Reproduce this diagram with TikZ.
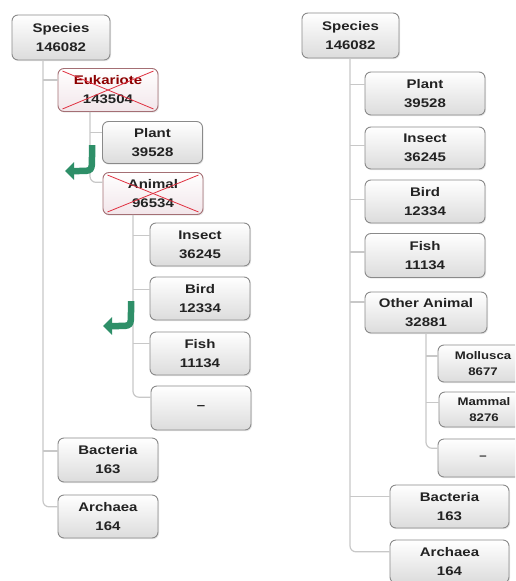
\documentclass[tikz,border=0pt]{standalone}
\usepackage{fontspec}
\setmainfont{Liberation Sans}
\newfontfamily\boxfont[FakeStretch=1.2,Ligatures=TeX]{Liberation Sans}
\usetikzlibrary{arrows.meta,calc,shadows}
\definecolor{boxborder}{HTML}{8A8A8A}
\definecolor{boxbottom}{HTML}{DCDCDC}
\definecolor{textgray}{HTML}{222222}
\definecolor{linegray}{HTML}{C8C8C8}
\definecolor{crossred}{HTML}{E03040}
\definecolor{arrowgreen}{HTML}{2E8F68}
\definecolor{crossfill}{HTML}{F2E6EA}
\begin{document}
\begin{tikzpicture}[x=1pt,y=-1pt,
  box/.style={draw=boxborder, line width=0.9pt, rounded corners=6pt, top color=white, bottom color=boxbottom,
    minimum width=100pt, minimum height=43pt, inner sep=1pt, align=center,
    font=\boxfont\fontsize{12.5}{19}\selectfont\bfseries, text=textgray,
    drop shadow={opacity=0.18, shadow xshift=1pt, shadow yshift=-1.2pt}},
  rbox/.style={box, minimum width=120pt},
  sbox/.style={box, minimum width=90pt, minimum height=37pt, font=\boxfont\fontsize{11}{16}\selectfont\bfseries},
  crossed/.style={box, top color=white, bottom color=crossfill, draw=boxborder!70!crossred},
  xline/.style={draw=crossred, line width=0.8pt},
  conn/.style={draw=linegray, line width=1.2pt, rounded corners=6pt},
  garrow/.style={draw=arrowgreen, line width=6.5pt, -{Triangle[length=9pt,width=17pt]}}
]
\clip (0,0) rectangle (515,581);
\fill[white] (0,0) rectangle (515,581);

% ---------- left tree ----------
\node[box, minimum width=98pt, minimum height=45pt] (LSp) at (61,37.5) {Species\\146082};
\node[crossed] (LEu) at (108,90) {\textcolor{red!55!black}{Eukariote}\\143504};
\node[box, minimum height=42pt] (LPl) at (152.5,142.5) {Plant\\39528};
\node[crossed, minimum height=42pt] (LAn) at (153,193.5) {Animal\\96534};
\node[box] (LIn) at (200,244.5) {Insect\\36245};
\node[box] (LBi) at (200,298.5) {Bird\\12334};
\node[box] (LFi) at (200,353.5) {Fish\\11134};
\node[box, minimum height=44pt] (LDa) at (201,408) {–};
\node[box, minimum height=44pt] (LBa) at (108,460) {Bacteria\\163};
\node[box] (LAr) at (108,516.5) {Archaea\\164};

\draw[xline] ([shift={(5,3)}]LEu.north west) -- ([shift={(-5,-3)}]LEu.south east);
\draw[xline] ([shift={(5,-3)}]LEu.south west) -- ([shift={(-5,3)}]LEu.north east);
\draw[xline] ([shift={(5,3)}]LAn.north west) -- ([shift={(-5,-3)}]LAn.south east);
\draw[xline] ([shift={(5,-3)}]LAn.south west) -- ([shift={(-5,3)}]LAn.north east);

\coordinate (Lx) at (43,0);
\coordinate (Ex) at (90,0);
\coordinate (Ax) at (133,0);
\coordinate (LEuIn) at ($(LEu.north west)!0.27!(LEu.south west)$);
\coordinate (LPlIn) at ($(LPl.north west)!0.27!(LPl.south west)$);
\coordinate (LAnIn) at ($(LAn.north west)!0.24!(LAn.south west)$);
\coordinate (LInIn) at ($(LIn.north west)!0.3!(LIn.south west)$);
\coordinate (LBiIn) at ($(LBi.north west)!0.3!(LBi.south west)$);
\coordinate (LFiIn) at ($(LFi.north west)!0.28!(LFi.south west)$);
\coordinate (LDaIn) at ($(LDa.north west)!0.26!(LDa.south west)$);
\coordinate (LBaIn) at ($(LBa.north west)!0.3!(LBa.south west)$);
\coordinate (LArIn) at ($(LAr.north west)!0.28!(LAr.south west)$);

\draw[conn] (LSp.south -| Lx) |- (LArIn);
\draw[conn] (Lx |- LEuIn) -- (LEuIn);
\draw[conn] (Lx |- LBaIn) -- (LBaIn);
\draw[conn] (LEu.south -| Ex) |- (LAnIn);
\draw[conn] (Ex |- LPlIn) -- (LPlIn);
\draw[conn] (LAn.south -| Ax) |- (LDaIn);
\draw[conn] (Ax |- LInIn) -- (LInIn);
\draw[conn] (Ax |- LBiIn) -- (LBiIn);
\draw[conn] (Ax |- LFiIn) -- (LFiIn);

\coordinate (G1s) at (92,145);
\coordinate (G1e) at (65,171);
\draw[garrow] (G1s) -- (92,157) .. controls (92,171) .. (79,171) -- (G1e);
\coordinate (G2s) at (131,301);
\coordinate (G2e) at (103,326);
\draw[garrow] (G2s) -- (131,312) .. controls (131,326) .. (118,326) -- (G2e);

% ---------- right tree ----------
\node[box, minimum width=97pt, minimum height=45pt] (RSp) at (350.5,35.5) {Species\\146082};
\node[rbox] (RPl) at (425,93.5) {Plant\\39528};
\node[rbox, minimum height=42pt] (RIn) at (425,148) {Insect\\36245};
\node[rbox] (RBi) at (425,201.5) {Bird\\12334};
\node[rbox, minimum height=44pt] (RFi) at (425,255.5) {Fish\\11134};
\node[rbox, minimum width=122pt, minimum height=41pt] (ROt) at (426,312.5) {Other Animal\\32881};
\node[sbox] (RMo) at (483,363.5) {Mollusca\\8677};
\node[sbox, minimum height=35pt] (RMa) at (484,409.5) {Mammal\\8276};
\node[sbox, minimum height=38pt] (RDa) at (483,458) {–};
\node[rbox, minimum width=119pt] (RBa) at (449.5,506.5) {Bacteria\\163};
\node[rbox, minimum width=119pt] (RAr) at (449.5,561.5) {Archaea\\164};

\coordinate (Rx) at (350,0);
\coordinate (Ox) at (426,0);
\coordinate (RPlIn) at ($(RPl.north west)!0.3!(RPl.south west)$);
\coordinate (RInIn) at ($(RIn.north west)!0.45!(RIn.south west)$);
\coordinate (RBiIn) at ($(RBi.north west)!0.45!(RBi.south west)$);
\coordinate (RFiIn) at ($(RFi.north west)!0.42!(RFi.south west)$);
\coordinate (ROtIn) at ($(ROt.north west)!0.25!(ROt.south west)$);
\coordinate (RMoIn) at ($(RMo.north west)!0.3!(RMo.south west)$);
\coordinate (RMaIn) at ($(RMa.north west)!0.3!(RMa.south west)$);
\coordinate (RDaIn) at ($(RDa.north west)!0.25!(RDa.south west)$);
\coordinate (RBaIn) at ($(RBa.north west)!0.28!(RBa.south west)$);
\coordinate (RArIn) at ($(RAr.north west)!0.28!(RAr.south west)$);

\draw[conn] (RSp.south -| Rx) |- (RArIn);
\draw[conn] (Rx |- RPlIn) -- (RPlIn);
\draw[conn] (Rx |- RInIn) -- (RInIn);
\draw[conn] (Rx |- RBiIn) -- (RBiIn);
\draw[conn] (Rx |- RFiIn) -- (RFiIn);
\draw[conn] (Rx |- ROtIn) -- (ROtIn);
\draw[conn] (Rx |- RBaIn) -- (RBaIn);
\draw[conn] (ROt.south -| Ox) |- (RDaIn);
\draw[conn] (Ox |- RMoIn) -- (RMoIn);
\draw[conn] (Ox |- RMaIn) -- (RMaIn);
\end{tikzpicture}
\end{document}
